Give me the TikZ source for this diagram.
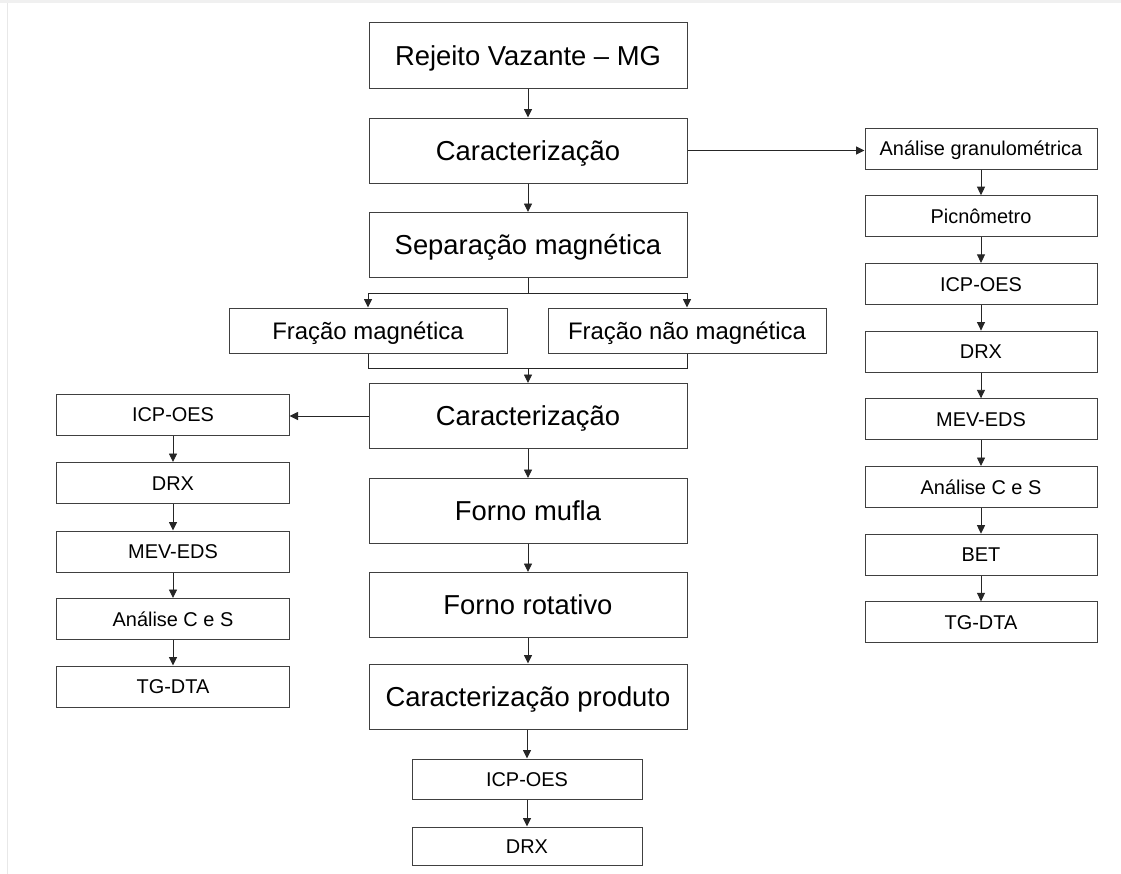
\documentclass[tikz,border=0pt]{standalone}
\usepackage{fontspec}
\setmainfont{Liberation Sans}
\usetikzlibrary{arrows.meta}

\begin{document}
\begin{tikzpicture}[x=1bp, y=-1bp,
  box/.style={draw=black!75, line width=1bp, rectangle, inner sep=0pt, minimum width=318bp, minimum height=65bp, text height=19.7bp, text depth=0bp, font=\fontsize{27.5}{33}\selectfont},
  fbox/.style={box, minimum width=278bp, minimum height=45bp, text height=17.2bp, font=\fontsize{24}{29}\selectfont},
  sbox/.style={box, minimum width=232bp, minimum height=41bp, text height=14.3bp, font=\fontsize{20}{24}\selectfont},
  arr/.style={-{Triangle[length=8.5bp,width=8bp]}, line width=0.9bp, black!85},
  lnk/.style={line width=0.9bp, black!85}]
  \useasboundingbox (0,0) rectangle (1121,874);
  \fill[white] (0,0) rectangle (1121,874);
  \draw[gray!12, line width=3bp] (0,1.5) -- (1121,1.5);
  \draw[gray!18, line width=1bp] (7,3) -- (7,874);
  % main column
  \node[box] (rej) at (528,55.5) {Rejeito Vazante -- MG};
  \node[box] (car) at (528,150.5) {Caracterização};
  \node[box] (sep) at (528,245) {Separação magnética};
  \node[fbox] (fmag) at (368,330.5) {Fração magnética};
  \node[fbox] (fnmag) at (687,330.5) {Fração não magnética};
  \node[box] (carb) at (528,416) {Caracterização};
  \node[box] (mufla) at (528,511) {Forno mufla};
  \node[box] (rot) at (528,605) {Forno rotativo};
  \node[box] (prod) at (528,696.5) {Caracterização produto};
  \node[sbox, minimum width=230bp, minimum height=40bp] (picp) at (527,779) {ICP-OES};
  \node[sbox, minimum width=230bp, minimum height=38bp] (pdrx) at (527,846) {DRX};
  % left column
  \node[sbox] (licp) at (173,414.5) {ICP-OES};
  \node[sbox] (ldrx) at (173,483) {DRX};
  \node[sbox] (lmev) at (173,551.5) {MEV-EDS};
  \node[sbox] (lcs) at (173,619) {Análise C e S};
  \node[sbox] (ltg) at (173,686.5) {TG-DTA};
  % right column
  \node[sbox] (rgran) at (981,148.5) {Análise granulométrica};
  \node[sbox] (rpic) at (981,216.2) {Picnômetro};
  \node[sbox] (ricp) at (981,283.9) {ICP-OES};
  \node[sbox] (rdrx) at (981,351.6) {DRX};
  \node[sbox] (rmev) at (981,419.3) {MEV-EDS};
  \node[sbox] (rcs) at (981,487) {Análise C e S};
  \node[sbox] (rbet) at (981,554.7) {BET};
  \node[sbox] (rtg) at (981,622.4) {TG-DTA};
  % connectors
  \coordinate (split) at (528,293);
  \coordinate (merge) at (528,368);
  \draw[arr] (rej) -- (car);
  \draw[arr] (car) -- (sep);
  \draw[arr] (car.east) -- (car.east -| rgran.west);
  \draw[lnk] (sep.south) -- (split);
  \draw[arr] (split) -| (fmag.north);
  \draw[arr] (split) -| (fnmag.north);
  \draw[lnk] (fmag.south) |- (merge);
  \draw[lnk] (fnmag.south) |- (merge);
  \draw[arr] (merge) -- (carb.north);
  \draw[arr] (carb.west) -- (carb.west -| licp.east);
  \draw[arr] (carb) -- (mufla);
  \draw[arr] (mufla) -- (rot);
  \draw[arr] (rot) -- (prod);
  \draw[arr] (prod.south -| picp.north) -- (picp.north);
  \draw[arr] (picp) -- (pdrx);
  \draw[arr] (licp) -- (ldrx); \draw[arr] (ldrx) -- (lmev);
  \draw[arr] (lmev) -- (lcs); \draw[arr] (lcs) -- (ltg);
  \draw[arr] (rgran) -- (rpic); \draw[arr] (rpic) -- (ricp);
  \draw[arr] (ricp) -- (rdrx); \draw[arr] (rdrx) -- (rmev);
  \draw[arr] (rmev) -- (rcs); \draw[arr] (rcs) -- (rbet);
  \draw[arr] (rbet) -- (rtg);
\end{tikzpicture}
\end{document}
